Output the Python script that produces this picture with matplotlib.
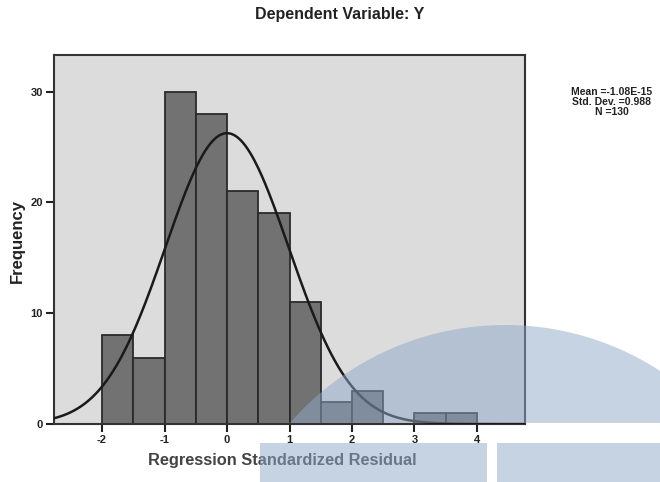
import numpy as np
import matplotlib.pyplot as plt
from matplotlib.patches import Rectangle, Polygon

# histogram of regression standardized residuals (bin width 0.5)
bin_edges = [-2.0, -1.5, -1.0, -0.5, 0.0, 0.5, 1.0, 1.5, 2.0, 2.5, 3.0, 3.5, 4.0]
counts = [8, 6, 30, 28, 21, 19, 11, 2, 3, 0, 1, 1]
mean_val = -1.08e-15
std_val = 0.988
n_obs = 130
x_ticks = [-2, -1, 0, 1, 2, 3, 4]
y_ticks = [0, 10, 20, 30]

plt.rcParams['font.family'] = ['Liberation Sans', 'DejaVu Sans']
plt.rcParams['font.weight'] = 'bold'
plt.rcParams['axes.labelweight'] = 'bold'
plt.rcParams['axes.unicode_minus'] = False

fig = plt.figure(figsize=(6.6, 4.82), dpi=100)
ax = fig.add_axes([54 / 660, 1 - 424 / 482, (525 - 54) / 660, (424 - 55) / 482])
ax.set_facecolor('#dcdcdc')

widths = np.diff(bin_edges)
ax.bar(bin_edges[:-1], counts, width=widths, align='edge',
       color='#727272', edgecolor='#2a2a2a', linewidth=1.3, zorder=2)

# normal curve scaled to counts
xs = np.linspace(-2.77, 4.77, 400)
bw = bin_edges[1] - bin_edges[0]
ys = n_obs * bw / (std_val * np.sqrt(2 * np.pi)) * np.exp(-0.5 * ((xs - mean_val) / std_val) ** 2)
ax.plot(xs, ys, color='#1a1a1a', linewidth=1.8, zorder=3)

ax.set_xlim(-2.77, 4.77)
ax.set_ylim(0, 33.3)
ax.set_xticks(x_ticks)
ax.set_yticks(y_ticks)
ax.tick_params(direction='out', length=6, width=1.5, labelsize=8, pad=2, colors='#222222')
for sp in ax.spines.values():
    sp.set_linewidth(1.5)
    sp.set_color('#333333')

ax.set_xlabel('Regression Standardized Residual', fontsize=11.8, color='#444444')
ax.set_ylabel('Frequency', fontsize=12, color='#222222')
ax.xaxis.set_label_coords((282 - 54) / 471, (424 - 453) / 369)
ax.yaxis.set_label_coords((25 - 54) / 471, (424 - 241) / 369)
fig.text(340 / 660, 1 - 14 / 482, 'Dependent Variable: Y', ha='center', va='center',
         fontsize=11.5, color='#222222')
fig.text(612 / 660, 1 - 102 / 482,
         'Mean =-1.08E-15\nStd. Dev. =0.988\nN =130',
         ha='center', va='center', fontsize=7.5, color='#222222', linespacing=0.95)

# scanned-page watermark overlay (pixel coordinates)
ov = fig.add_axes([0, 0, 1, 1], facecolor='none')
ov.set_xlim(0, 660)
ov.set_ylim(482, 0)
ov.axis('off')
t = np.linspace(0, 2 * np.pi, 400)
cx, cy, r = 505, 610, 285
px = cx + r * np.cos(t)
py = np.minimum(cy + r * np.sin(t), 423)
wm = '#8ea8c9'
ov.add_patch(Polygon(np.column_stack([px, py]), closed=True,
                     facecolor=wm, edgecolor='none', alpha=0.5, zorder=5))
ov.add_patch(Rectangle((260, 443), 227, 40, facecolor=wm, edgecolor='none', alpha=0.5, zorder=5))
ov.add_patch(Rectangle((497, 443), 170, 40, facecolor=wm, edgecolor='none', alpha=0.5, zorder=5))

fig.savefig('out.png', dpi=100)
